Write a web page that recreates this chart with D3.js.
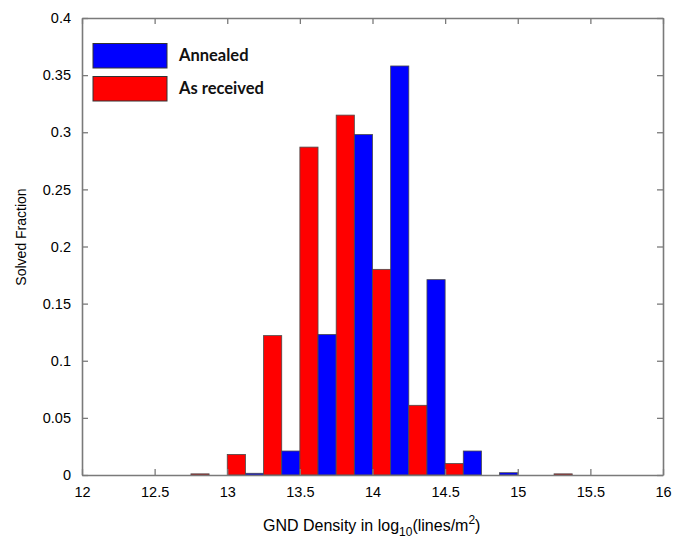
<!DOCTYPE html>
<html>
<head>
<meta charset="utf-8">
<script src="https://cdn.jsdelivr.net/npm/d3@7"></script>
<style>
  body { margin: 0; background: #fff; }
  text { font-family: "Liberation Sans", Arial, sans-serif; }
</style>
</head>
<body>
<div id="chart"></div>
<script>
// bin starts (log10 lines/m^2), bin width 0.25
var binStarts = [12.5, 12.75, 13, 13.25, 13.5, 13.75, 14, 14.25, 14.5, 14.75, 15, 15.25];
var asReceived = [0, 0.001, 0.018, 0.122, 0.287, 0.315, 0.180, 0.061, 0.010, null, 0, 0.001];
var annealed = [null, null, 0.0015, 0.021, 0.123, 0.298, 0.358, 0.171, 0.021, 0.002, null, null];
var xTicks = [12, 12.5, 13, 13.5, 14, 14.5, 15, 15.5, 16];
var yTicks = [0, 0.05, 0.1, 0.15, 0.2, 0.25, 0.3, 0.35, 0.4];
var binWidth = 0.25;

var w = 684, h = 539;
var margin = {top: 18, right: 21, bottom: 64, left: 82};
var axisColor = "#7a7a7a";

var svg = d3.select("#chart").append("svg")
    .attr("width", w)
    .attr("height", h);

var x = d3.scaleLinear().domain([12, 16]).range([margin.left, w - margin.right]);
var y = d3.scaleLinear().domain([0, 0.4]).range([h - margin.bottom, margin.top]);

// bars: red in left half of bin, blue in right half
var bars = [];
binStarts.forEach(function(b, i) {
    if (asReceived[i] !== null) bars.push({x0: b, v: asReceived[i], c: "#ff0000"});
    if (annealed[i] !== null) bars.push({x0: b + binWidth / 2, v: annealed[i], c: "#0000ff"});
});

svg.selectAll("rect.bar")
    .data(bars)
    .enter()
    .append("rect")
    .attr("class", "bar")
    .attr("x", function(d) { return x(d.x0); })
    .attr("width", function(d) { return x(d.x0 + binWidth / 2) - x(d.x0); })
    .attr("y", function(d) { return y(d.v); })
    .attr("height", function(d) { return y(0) - y(d.v); })
    .attr("fill", function(d) { return d.c; })
    .attr("stroke", "#4a4a4a")
    .attr("stroke-width", 0.8);

// axes, ticks pointing inward, mirrored on top/right
function styleAxis(g) {
    g.selectAll("path").attr("stroke", axisColor).attr("stroke-width", 1.6);
    g.selectAll("line").attr("stroke", axisColor).attr("stroke-width", 1.3);
    g.selectAll("text").attr("fill", "#000").style("font-size", "14.5px");
}

svg.append("g")
    .attr("transform", "translate(0," + y(0) + ")")
    .call(d3.axisBottom(x).tickValues(xTicks).tickSize(-6).tickSizeOuter(0).tickPadding(12)
        .tickFormat(d3.format("")))
    .call(styleAxis);

svg.append("g")
    .attr("transform", "translate(0," + y(0.4) + ")")
    .call(d3.axisTop(x).tickValues(xTicks).tickSize(-6).tickSizeOuter(0).tickFormat(""))
    .call(styleAxis);

svg.append("g")
    .attr("transform", "translate(" + x(12) + ",0)")
    .call(d3.axisLeft(y).tickValues(yTicks).tickSize(-6).tickSizeOuter(0).tickPadding(11)
        .tickFormat(d3.format("")))
    .call(styleAxis);

svg.append("g")
    .attr("transform", "translate(" + x(16) + ",0)")
    .call(d3.axisRight(y).tickValues(yTicks).tickSize(-6).tickSizeOuter(0).tickFormat(""))
    .call(styleAxis);

// axis labels
var xl = svg.append("text")
    .attr("x", 263)
    .attr("y", 531)
    .style("font-size", "16px")
    .attr("fill", "#000");
xl.append("tspan").text("GND Density in log");
xl.append("tspan").attr("dy", 5).style("font-size", "12px").text("10");
xl.append("tspan").attr("dy", -5).text("(lines/m");
xl.append("tspan").attr("dy", -7).style("font-size", "12px").text("2");
xl.append("tspan").attr("dy", 7).text(")");

svg.append("text")
    .attr("transform", "translate(26," + 237 + ") rotate(-90)")
    .attr("text-anchor", "middle")
    .style("font-size", "14px")
    .attr("fill", "#000")
    .text("Solved Fraction");

// legend
var legend = [{name: "Annealed", c: "#0000ff"}, {name: "As received", c: "#ff0000"}];
var lg = svg.append("g");
lg.selectAll("rect")
    .data(legend)
    .enter()
    .append("rect")
    .attr("x", 93)
    .attr("y", function(d, i) { return 43.5 + i * 33; })
    .attr("width", 74)
    .attr("height", 24.5)
    .attr("fill", function(d) { return d.c; })
    .attr("stroke", "#333")
    .attr("stroke-width", 1);
lg.selectAll("text")
    .data(legend)
    .enter()
    .append("text")
    .attr("x", 179)
    .attr("y", function(d, i) { return 61 + i * 33; })
    .style("font-family", "Lato, 'Open Sans', sans-serif")
    .style("font-weight", "bold")
    .style("font-size", "16.5px")
    .attr("fill", "#111")
    .text(function(d) { return d.name; });
</script>
</body>
</html>
